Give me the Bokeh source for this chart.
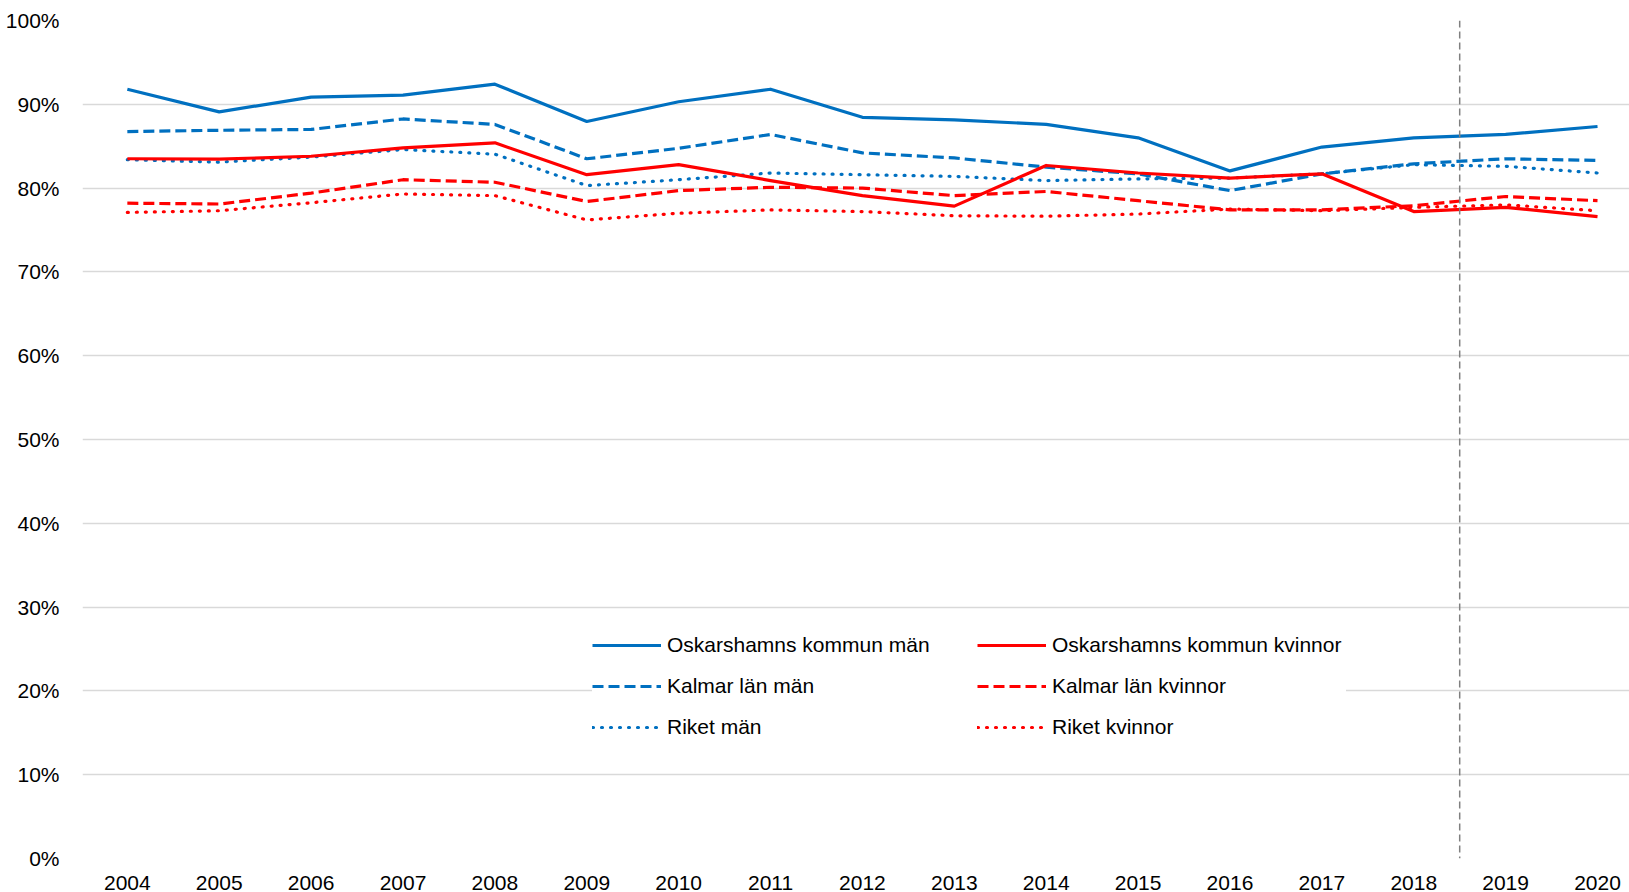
from bokeh.plotting import figure
from bokeh.models import (Range1d, FixedTicker, PrintfTickFormatter, Span,
                          Legend, LegendItem)
from bokeh.embed import file_html
from bokeh.resources import INLINE

years = list(range(2004, 2021))
osk_man = [91.8, 89.1, 90.85, 91.1, 92.4, 87.95, 90.3, 91.8, 88.45, 88.15, 87.6, 86.0, 82.05, 84.9, 86.0, 86.4, 87.35]
kal_man = [86.75, 86.9, 87.0, 88.25, 87.6, 83.5, 84.75, 86.4, 84.2, 83.6, 82.5, 81.7, 79.7, 81.7, 82.9, 83.5, 83.3]
rik_man = [83.4, 83.1, 83.7, 84.6, 84.05, 80.3, 81.0, 81.8, 81.6, 81.4, 80.9, 81.1, 81.2, 81.7, 82.8, 82.6, 81.8]
osk_kv = [83.5, 83.45, 83.8, 84.8, 85.4, 81.6, 82.8, 80.9, 79.1, 77.85, 82.7, 81.8, 81.2, 81.7, 77.2, 77.7, 76.6]
kal_kv = [78.2, 78.1, 79.4, 81.0, 80.7, 78.4, 79.7, 80.1, 80.0, 79.1, 79.6, 78.5, 77.4, 77.4, 77.9, 79.0, 78.5]
rik_kv = [77.1, 77.3, 78.25, 79.3, 79.1, 76.2, 77.0, 77.4, 77.2, 76.7, 76.65, 76.9, 77.5, 77.3, 77.7, 78.0, 77.3]
y_ticks = [0, 10, 20, 30, 40, 50, 60, 70, 80, 90, 100]
labels = ["Oskarshamns kommun män", "Kalmar län män", "Riket män",
          "Oskarshamns kommun kvinnor", "Kalmar län kvinnor", "Riket kvinnor"]
divider_year = 2018.5

BLUE = "#0070C0"
RED = "#FF0000"
FONT = "Liberation Sans"

p = figure(width=1629, height=892, output_backend="svg", toolbar_location=None,
           x_range=Range1d(2003.512, 2020.348), y_range=Range1d(0, 100),
           min_border_left=82, min_border_right=0, min_border_top=20,
           min_border_bottom=34)
p.outline_line_color = None
p.background_fill_color = "white"
p.border_fill_color = "white"

p.xgrid.grid_line_color = None
p.ygrid.grid_line_color = "#d9d9d9"
p.ygrid.grid_line_width = 1.5

p.yaxis.ticker = FixedTicker(ticks=y_ticks)
p.yaxis.formatter = PrintfTickFormatter(format="%d%%")
p.xaxis.ticker = FixedTicker(ticks=years)
for ax in (p.xaxis, p.yaxis):
    ax.axis_line_color = None
    ax.major_tick_line_color = None
    ax.minor_tick_line_color = None
    ax.major_label_text_font = FONT
    ax.major_label_text_font_size = "21px"
    ax.major_label_text_color = "#000000"
p.yaxis.major_label_standoff = 17
p.xaxis.major_label_standoff = 11

series = [
    (osk_man, BLUE, "solid", "butt"),
    (kal_man, BLUE, "11 5", "butt"),
    (rik_man, BLUE, "1 8", "round"),
    (osk_kv, RED, "solid", "butt"),
    (kal_kv, RED, "11 5", "butt"),
    (rik_kv, RED, "1 8", "round"),
]
renderers = []
for vals, col, dash, cap in series:
    r = p.line(years, vals, line_color=col, line_width=3.2, line_dash=dash,
               line_cap=cap, line_join="round")
    renderers.append(r)

span = Span(location=divider_year, dimension="height", line_color="#808080",
            line_dash="7 4", line_width=1.5)
p.add_layout(span)

order = [0, 3, 1, 4, 2, 5]
items = [LegendItem(label=labels[i], renderers=[renderers[i]]) for i in order]
legend = Legend(items=items, location=(510, 119), orientation="horizontal",
                ncols=2, glyph_width=69, glyph_height=20, label_standoff=6,
                label_width=294, label_height=25, spacing=16, padding=15,
                margin=0, border_line_color=None, background_fill_color="white",
                background_fill_alpha=1.0, label_text_font=FONT,
                label_text_font_size="21px", label_text_color="#000000")
p.add_layout(legend, "center")

open("out.html", "w").write(file_html(p, INLINE))
